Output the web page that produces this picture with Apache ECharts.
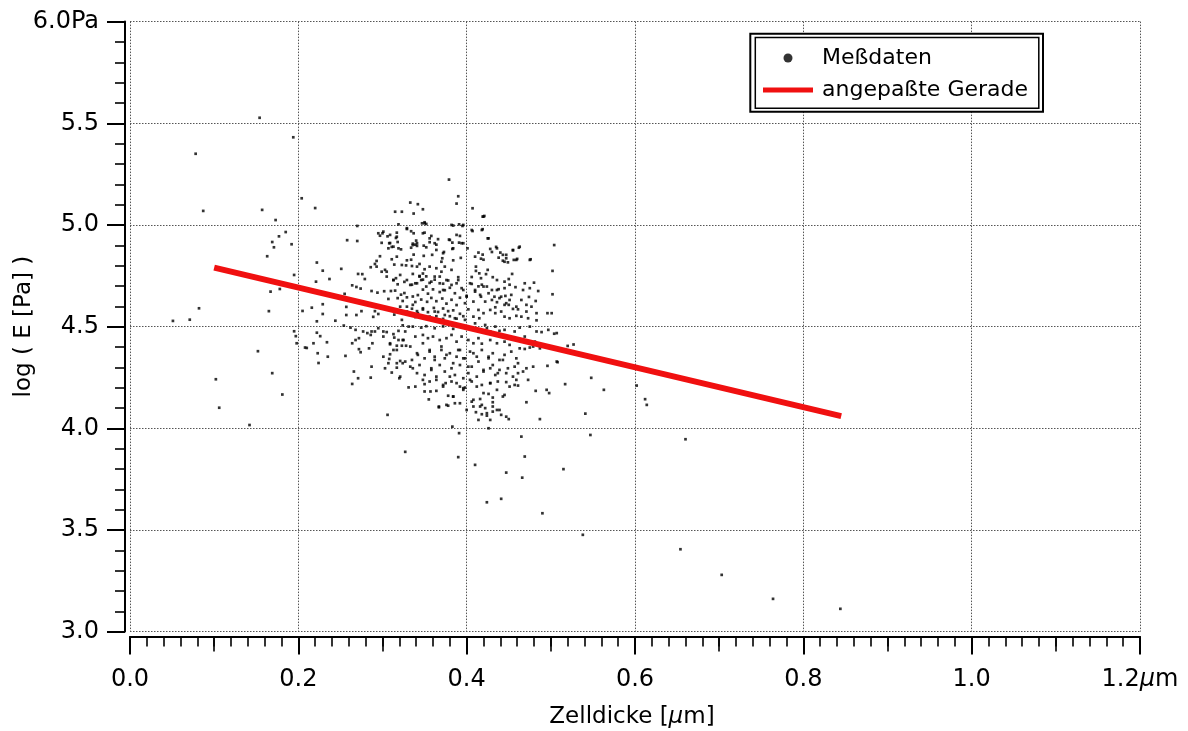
<!DOCTYPE html>
<html>
<head>
<meta charset="utf-8">
<script src="https://cdn.jsdelivr.net/npm/echarts@6/dist/echarts.min.js"></script>
<style>
  html, body { margin: 0; padding: 0; background: #fff; }
  #chart { width: 1188px; height: 731px; }
</style>
</head>
<body>
<div id="chart"></div>
<script>
// Measured cell thickness [µm] vs. log elastic modulus
const messdaten = [
  // sparse points, left side
  [0.154,5.527],[0.078,5.350],[0.194,5.431],[0.087,5.069],[0.157,5.074],[0.204,5.131],[0.220,5.083],
  [0.173,5.024],[0.185,4.965],[0.177,4.944],[0.169,4.916],[0.171,4.890],[0.192,4.905],[0.163,4.846],
  [0.222,4.815],[0.195,4.754],[0.221,4.721],[0.167,4.672],[0.178,4.685],[0.082,4.590],[0.051,4.528],
  [0.071,4.534],[0.165,4.576],[0.205,4.577],[0.216,4.593],[0.222,4.526],[0.195,4.477],[0.197,4.453],
  [0.198,4.418],[0.208,4.397],[0.210,4.395],[0.218,4.418],[0.223,4.369],[0.224,4.321],[0.222,4.470],
  [0.152,4.379],[0.169,4.271],[0.181,4.166],[0.102,4.241],[0.106,4.101],[0.142,4.016],
  // upper left part of the cluster
  [0.229,4.775],[0.237,4.734],[0.251,4.784],[0.258,4.925],[0.270,4.921],[0.270,4.995],[0.229,4.610],
  [0.229,4.562],[0.264,4.703],[0.269,4.695],[0.271,4.759],[0.276,4.758],[0.279,4.734],[0.255,4.661],
  [0.257,4.597],[0.257,4.557],[0.244,4.529],[0.269,4.557],[0.275,4.576],[0.274,4.687],[0.287,4.675],
  [0.294,4.667],[0.286,4.792],[0.291,4.808],[0.297,4.846],[0.293,4.823],[0.303,4.779],[0.305,4.770],
  [0.302,4.674],[0.307,4.636],[0.295,4.562],[0.289,4.548],[0.291,4.576],[0.303,4.588],[0.297,4.947],
  [0.300,4.959],[0.306,4.944],[0.309,4.911],[0.307,4.885],[0.311,4.892],[0.316,4.936],[0.317,4.962],
  [0.318,4.916],[0.322,4.880],[0.317,4.844],[0.329,4.980],[0.319,5.003],[0.315,5.065],[0.323,5.065],
  [0.311,4.831],[0.314,4.805],[0.316,4.738],[0.313,4.729],[0.318,4.708],[0.323,4.803],[0.329,4.826],
  [0.328,4.801],[0.326,4.720],[0.315,4.677],[0.322,4.657],[0.326,4.665],[0.329,4.644],[0.324,4.626],
  [0.318,4.640],[0.310,4.675],[0.314,4.559],[0.323,4.533],[0.329,4.598],[0.329,4.566],
  // upper right part of the cluster
  [0.379,5.223],[0.390,5.141],[0.388,5.105],[0.407,5.082],[0.419,5.041],[0.421,5.044],[0.407,4.970],
  [0.419,4.979],[0.425,4.934],[0.333,5.110],[0.342,5.102],[0.348,5.077],[0.337,5.056],[0.347,5.008],
  [0.350,5.013],[0.352,5.005],[0.382,5.000],[0.384,4.997],[0.391,5.003],[0.395,4.995],[0.334,4.969],
  [0.337,4.959],[0.350,4.962],[0.358,4.946],[0.340,4.923],[0.336,4.908],[0.339,4.903],[0.334,4.888],
  [0.341,4.897],[0.349,4.898],[0.352,4.890],[0.356,4.915],[0.366,4.930],[0.364,4.903],[0.379,4.928],
  [0.383,4.913],[0.391,4.913],[0.392,4.946],[0.396,4.910],[0.401,4.885],[0.373,4.867],[0.383,4.882],
  [0.359,4.853],[0.349,4.848],[0.334,4.829],[0.337,4.854],[0.370,4.819],[0.371,4.836],[0.384,4.826],
  [0.393,4.838],[0.410,4.844],[0.414,4.864],[0.417,4.834],[0.419,4.854],[0.420,4.829],[0.428,4.882],
  [0.430,4.867],[0.435,4.892],[0.440,4.864],[0.438,4.839],[0.443,4.824],[0.447,4.853],[0.447,4.836],
  [0.449,4.816],[0.455,4.875],[0.456,4.828],[0.460,4.833],[0.462,4.888],[0.476,4.831],[0.504,4.901],
  [0.502,4.774],[0.502,4.659],[0.496,4.566],[0.501,4.566],[0.480,4.716],[0.485,4.675],[0.475,4.689],
  [0.469,4.713],[0.467,4.680],[0.474,4.646],[0.482,4.626],[0.471,4.607],[0.461,4.585],[0.465,4.549],
  [0.473,4.541],[0.483,4.531],[0.454,4.759],[0.450,4.734],[0.445,4.721],[0.451,4.706],[0.458,4.694],
  [0.445,4.689],[0.438,4.684],[0.436,4.729],[0.431,4.743],[0.425,4.779],[0.423,4.758],[0.417,4.738],
  [0.415,4.762],[0.411,4.795],[0.411,4.774],[0.406,4.744],[0.406,4.710],[0.414,4.698],[0.418,4.706],
  [0.424,4.697],[0.430,4.680],[0.433,4.647],[0.439,4.640],[0.446,4.651],[0.451,4.631],[0.445,4.607],
  [0.450,4.607],[0.455,4.587],[0.436,4.620],[0.434,4.595],[0.428,4.582],[0.434,4.566],[0.441,4.574],
  [0.445,4.549],[0.451,4.541],[0.459,4.553],[0.422,4.623],[0.417,4.647],[0.410,4.672],[0.408,4.623],
  [0.414,4.582],[0.420,4.566],[0.415,4.541],[0.408,4.549],[0.402,4.585],[0.398,4.615],[0.400,4.651],
  [0.394,4.689],[0.388,4.713],[0.390,4.743],[0.382,4.779],[0.374,4.795],[0.370,4.770],[0.364,4.787],
  [0.356,4.795],[0.350,4.782],[0.344,4.808],[0.341,4.795],[0.335,4.798],[0.336,4.759],[0.344,4.749],
  [0.348,4.761],[0.352,4.747],[0.346,4.729],[0.341,4.713],[0.335,4.706],[0.356,4.715],[0.362,4.731],
  [0.368,4.746],[0.372,4.711],[0.378,4.727],[0.380,4.691],[0.374,4.679],[0.368,4.670],[0.360,4.683],
  [0.354,4.662],[0.348,4.682],[0.342,4.655],[0.336,4.648],[0.339,4.621],[0.346,4.633],[0.353,4.622],
  [0.358,4.641],[0.364,4.625],[0.371,4.638],[0.376,4.613],[0.382,4.632],[0.388,4.606],[0.392,4.642],
  [0.384,4.580],[0.378,4.576],[0.372,4.589],[0.366,4.572],[0.361,4.592],[0.354,4.571],[0.348,4.584],
  [0.341,4.576],[0.335,4.588],[0.392,4.563],[0.396,4.551],[0.388,4.539],[0.380,4.551],[0.372,4.538],
  [0.364,4.551],[0.356,4.539],[0.346,4.552],[0.339,4.547],
  // lower right part of the cluster
  [0.336,4.500],[0.346,4.495],[0.352,4.502],[0.362,4.492],[0.372,4.501],[0.384,4.489],[0.396,4.495],
  [0.412,4.484],[0.424,4.492],[0.439,4.479],[0.463,4.495],[0.475,4.500],[0.483,4.476],[0.489,4.473],
  [0.497,4.484],[0.507,4.468],[0.339,4.451],[0.348,4.459],[0.354,4.443],[0.360,4.451],[0.368,4.434],
  [0.376,4.443],[0.382,4.459],[0.388,4.426],[0.394,4.451],[0.402,4.434],[0.408,4.418],[0.414,4.443],
  [0.418,4.416],[0.428,4.434],[0.436,4.418],[0.445,4.426],[0.451,4.410],[0.463,4.393],[0.469,4.390],
  [0.475,4.397],[0.479,4.402],[0.335,4.336],[0.342,4.361],[0.350,4.344],[0.356,4.377],[0.362,4.352],
  [0.370,4.385],[0.374,4.344],[0.380,4.369],[0.388,4.352],[0.392,4.385],[0.398,4.344],[0.404,4.377],
  [0.412,4.352],[0.418,4.385],[0.426,4.344],[0.431,4.369],[0.439,4.336],[0.445,4.361],[0.453,4.377],
  [0.459,4.344],[0.471,4.295],[0.496,4.307],[0.507,4.328],[0.336,4.295],[0.344,4.311],[0.350,4.262],
  [0.358,4.295],[0.364,4.254],[0.368,4.311],[0.374,4.279],[0.382,4.295],[0.386,4.262],[0.392,4.311],
  [0.396,4.246],[0.402,4.271],[0.406,4.303],[0.412,4.254],[0.420,4.279],[0.428,4.295],[0.434,4.262],
  [0.439,4.287],[0.447,4.271],[0.457,4.303],[0.461,4.271],[0.339,4.205],[0.350,4.217],[0.356,4.230],
  [0.372,4.213],[0.375,4.222],[0.382,4.230],[0.392,4.205],[0.396,4.197],[0.398,4.200],[0.406,4.230],
  [0.418,4.213],[0.428,4.222],[0.437,4.230],[0.447,4.227],[0.457,4.213],[0.461,4.210],[0.482,4.184],
  [0.495,4.189],[0.498,4.173],[0.517,4.217],[0.350,4.181],[0.357,4.181],[0.364,4.184],[0.378,4.160],
  [0.384,4.156],[0.386,4.123],[0.367,4.107],[0.376,4.115],[0.406,4.131],[0.408,4.107],[0.416,4.144],
  [0.418,4.115],[0.422,4.099],[0.426,4.169],[0.431,4.151],[0.431,4.128],[0.445,4.164],[0.471,4.128],
  [0.411,4.079],[0.418,4.069],[0.424,4.062],[0.431,4.082],[0.436,4.090],[0.441,4.066],[0.450,4.045],
  [0.414,4.041],[0.428,4.041],[0.487,4.045],[0.383,4.008],[0.426,4.000],[0.391,3.976],[0.465,3.959],
  [0.390,3.858],[0.469,3.861],[0.410,3.820],[0.447,3.782],[0.466,3.757],[0.515,3.799],
  // lower left part and outliers
  [0.306,4.066],[0.327,3.884],[0.424,3.636],[0.441,3.653],[0.490,3.582],[0.538,3.476],[0.654,3.405],
  [0.660,3.946],[0.547,3.967],[0.320,4.246],[0.331,4.201],[0.355,4.142],[0.367,4.103],[0.378,4.111],
  [0.541,4.072],[0.563,4.189],[0.612,4.143],[0.614,4.115],[0.602,4.210],[0.703,3.279],[0.764,3.161],
  [0.844,3.112],[0.520,4.405],[0.527,4.412],[0.548,4.248],[0.504,4.465],[0.508,4.325],
  [0.226,4.453],[0.234,4.423],[0.235,4.352],[0.256,4.356],[0.254,4.505],[0.262,4.495],[0.268,4.484],
  [0.264,4.418],[0.268,4.434],[0.272,4.443],[0.272,4.389],[0.274,4.374],[0.266,4.279],[0.271,4.246],
  [0.264,4.218],[0.277,4.476],[0.282,4.468],[0.287,4.476],[0.291,4.476],[0.295,4.492],[0.286,4.459],
  [0.288,4.418],[0.284,4.393],[0.286,4.249],[0.287,4.303],[0.301,4.476],[0.305,4.473],[0.313,4.463],
  [0.319,4.479],[0.327,4.476],[0.324,4.506],[0.331,4.500],[0.314,4.446],[0.319,4.434],[0.324,4.434],
  [0.309,4.413],[0.317,4.406],[0.323,4.406],[0.328,4.406],[0.313,4.385],[0.309,4.364],[0.308,4.341],
  [0.301,4.352],[0.307,4.320],[0.317,4.320],[0.321,4.331],[0.324,4.320],[0.327,4.328],[0.303,4.295],
  [0.311,4.274],[0.317,4.298],[0.321,4.254],
  // dense core
  [0.295,4.959],[0.301,4.967],[0.309,4.951],[0.317,4.942],[0.308,4.910],[0.299,4.912],[0.313,4.893],
  [0.319,4.885],[0.329,4.984],[0.336,4.901],[0.341,4.910],[0.348,4.959],[0.350,5.008],[0.356,4.934],
  [0.362,4.910],[0.364,4.877],[0.372,4.861],[0.380,4.926],[0.384,4.885],[0.388,4.951],[0.394,4.910],
  [0.396,5.000],[0.406,4.975],[0.420,5.041],[0.418,4.975],[0.426,4.934],[0.436,4.885],[0.443,4.853],
  [0.445,4.819],[0.455,4.877],[0.459,4.828],[0.463,4.893],[0.475,4.828],
  [0.293,4.795],[0.299,4.770],[0.305,4.746],[0.313,4.729],[0.321,4.754],[0.329,4.729],[0.333,4.705],
  [0.339,4.713],[0.344,4.746],[0.348,4.731],[0.352,4.697],[0.358,4.721],[0.362,4.746],[0.368,4.713],
  [0.372,4.680],[0.376,4.729],[0.382,4.705],[0.386,4.664],[0.390,4.729],[0.396,4.680],[0.400,4.647],
  [0.404,4.713],[0.410,4.680],[0.416,4.656],[0.420,4.697],[0.426,4.664],[0.430,4.631],[0.436,4.680],
  [0.441,4.647],[0.447,4.615],[0.453,4.656],[0.459,4.598],[0.465,4.631],[0.471,4.574],[0.477,4.598],
  [0.483,4.566],[0.321,4.598],[0.329,4.574],[0.336,4.607],[0.342,4.566],[0.348,4.590],[0.356,4.549],
  [0.362,4.574],[0.368,4.533],[0.374,4.557],[0.380,4.516],[0.386,4.541],[0.392,4.500],[0.398,4.533],
  [0.404,4.492],[0.410,4.516],[0.416,4.484],[0.422,4.508],[0.428,4.476],[0.434,4.500],[0.439,4.459],
  [0.445,4.484],[0.451,4.451],[0.457,4.476],[0.463,4.434],[0.469,4.451],[0.475,4.416],[0.481,4.426],
  [0.487,4.393],
  [0.301,4.451],[0.309,4.418],[0.317,4.385],[0.325,4.434],[0.333,4.402],[0.341,4.369],[0.348,4.418],
  [0.356,4.385],[0.362,4.336],[0.370,4.402],[0.376,4.361],[0.384,4.320],[0.390,4.385],[0.396,4.344],
  [0.402,4.303],[0.408,4.369],[0.414,4.328],[0.420,4.287],[0.426,4.352],[0.431,4.311],[0.437,4.271],
  [0.443,4.336],[0.449,4.295],[0.455,4.254],[0.461,4.320],[0.467,4.279],[0.473,4.238],[0.479,4.303],
  [0.333,4.303],[0.341,4.271],[0.348,4.238],[0.358,4.287],[0.364,4.238],[0.372,4.205],[0.380,4.254],
  [0.388,4.222],[0.396,4.189],[0.404,4.238],[0.412,4.205],[0.420,4.173],[0.428,4.222],[0.436,4.189],
  [0.443,4.156],[0.451,4.205],[0.459,4.238],[0.384,4.156],[0.392,4.123],[0.400,4.090],[0.408,4.140],
  [0.416,4.107],[0.424,4.074],[0.431,4.107],[0.439,4.090],[0.447,4.057]
];

// Straight line fitted to the measurements
const fitLine = [[0.1, 4.79], [0.845, 4.06]];

// Axis ranges, steps and units
const xRange = [0, 1.2];
const xStep = 0.2;
const xMidStep = 0.1;
const yRange = [3.0, 6.0];
const yStep = 0.5;
const xUnit = ['µ', 'm'];
const yUnit = 'Pa';
const seriesNames = ['Meßdaten', 'angepaßte Gerade'];
const xTitle = ['Zelldicke [', 'µ', 'm]'];
const yTitle = 'log ( E [Pa] )';

const FONT = 'DejaVu Sans';
const RED = '#f01010';
const near = (a, b) => Math.abs(a - b) < 1e-9;

const chart = echarts.init(document.getElementById('chart'), null, { renderer: 'canvas' });

const dotted = { type: [1.5, 1.5], color: '#555', width: 1 };

chart.setOption({
  animation: false,
  backgroundColor: '#fff',
  grid: { left: 130, right: 48, top: 21.6, bottom: 99.4, containLabel: false, outerBoundsMode: 'none' },
  xAxis: [
    {
      type: 'value', min: xRange[0], max: xRange[1], interval: xStep, position: 'bottom', offset: 5,
      axisLine: { show: true, onZero: false, lineStyle: { color: '#000', width: 2 } },
      axisTick: { show: true, length: 18, lineStyle: { color: '#000', width: 2 } },
      minorTick: { show: true, splitNumber: 10, length: 10, lineStyle: { color: '#000', width: 1.6 } },
      splitLine: { show: true, lineStyle: dotted },
      axisLabel: {
        margin: 31, color: '#000', fontFamily: FONT, fontSize: 24,
        formatter: v => near(v, xRange[1])
          ? `{n|${v.toFixed(1)}}{u|${xUnit[0]}}{n|${xUnit[1]}}`
          : `{n|${v.toFixed(1)}}`,
        rich: {
          n: { fontFamily: FONT, fontSize: 24, color: '#000' },
          u: { fontFamily: FONT, fontSize: 24, color: '#000', fontStyle: 'italic' }
        }
      },
      name: `{n|${xTitle[0]}}{u|${xTitle[1]}}{n|${xTitle[2]}}`,
      nameLocation: 'middle', nameGap: 69, nameMoveOverlap: false,
      nameTextStyle: {
        padding: [0, 6, 0, 0],
        rich: {
          n: { fontFamily: FONT, fontSize: 23, color: '#000' },
          u: { fontFamily: FONT, fontSize: 23, color: '#000', fontStyle: 'italic' }
        }
      }
    },
    {
      // half-step ticks (0.1, 0.3, ...) drawn a little longer than the minor ticks
      type: 'value', min: xRange[0], max: xRange[1], interval: xMidStep, position: 'bottom', offset: 5,
      axisLine: { show: false, onZero: false },
      axisTick: { show: true, length: 15, lineStyle: { color: '#000', width: 1.6 } },
      axisLabel: { show: false },
      splitLine: { show: false }
    }
  ],
  yAxis: {
    type: 'value', min: yRange[0], max: yRange[1], interval: yStep, position: 'left', offset: 5,
    axisLine: { show: true, onZero: false, lineStyle: { color: '#000', width: 2 } },
    axisTick: { show: true, length: 18, lineStyle: { color: '#000', width: 2 } },
    minorTick: { show: true, splitNumber: 5, length: 10, lineStyle: { color: '#000', width: 1.6 } },
    splitLine: { show: true, lineStyle: dotted },
    axisLabel: {
      margin: 26, color: '#000', fontFamily: FONT, fontSize: 24,
      formatter: v => near(v, yRange[1]) ? v.toFixed(1) + yUnit : v.toFixed(1)
    },
    name: yTitle, nameLocation: 'middle', nameGap: 89, nameMoveOverlap: false,
    nameTextStyle: { fontFamily: FONT, fontSize: 23, color: '#000' }
  },
  graphic: [
    // double frame behind the legend
    { type: 'rect', z: 50, silent: true,
      shape: { x: 750.3, y: 33.7, width: 292.7, height: 78 },
      style: { fill: '#fff', stroke: '#000', lineWidth: 2 } },
    { type: 'rect', z: 51, silent: true,
      shape: { x: 755.3, y: 37.5, width: 283.5, height: 70.7 },
      style: { fill: 'none', stroke: '#000', lineWidth: 1.5 } }
  ],
  legend: {
    orient: 'vertical', left: 763, top: 46, padding: 0, itemGap: 8,
    itemWidth: 50, itemHeight: 9, z: 60, selectedMode: false,
    textStyle: { fontFamily: FONT, fontSize: 22, color: '#000', lineHeight: 24, padding: [0, 0, 0, 4] },
    data: [
      { name: seriesNames[0], icon: 'circle', itemStyle: { color: '#000' } },
      // plain red bar, 50 x 5, centred in the 50 x 9 icon box
      { name: seriesNames[1], icon: 'path://M0,0 M50,9 M0,2 L50,2 L50,7 L0,7 Z', itemStyle: { color: RED } }
    ]
  },
  series: [
    {
      name: seriesNames[0], type: 'scatter', data: messdaten,
      symbol: 'rect', symbolSize: 2.7, silent: true, z: 2,
      itemStyle: { color: '#000' }
    },
    {
      name: seriesNames[1], type: 'line', data: fitLine,
      symbol: 'none', silent: true, z: 3,
      lineStyle: { color: RED, width: 6 },
      itemStyle: { color: RED }
    }
  ]
});
</script>
</body>
</html>
